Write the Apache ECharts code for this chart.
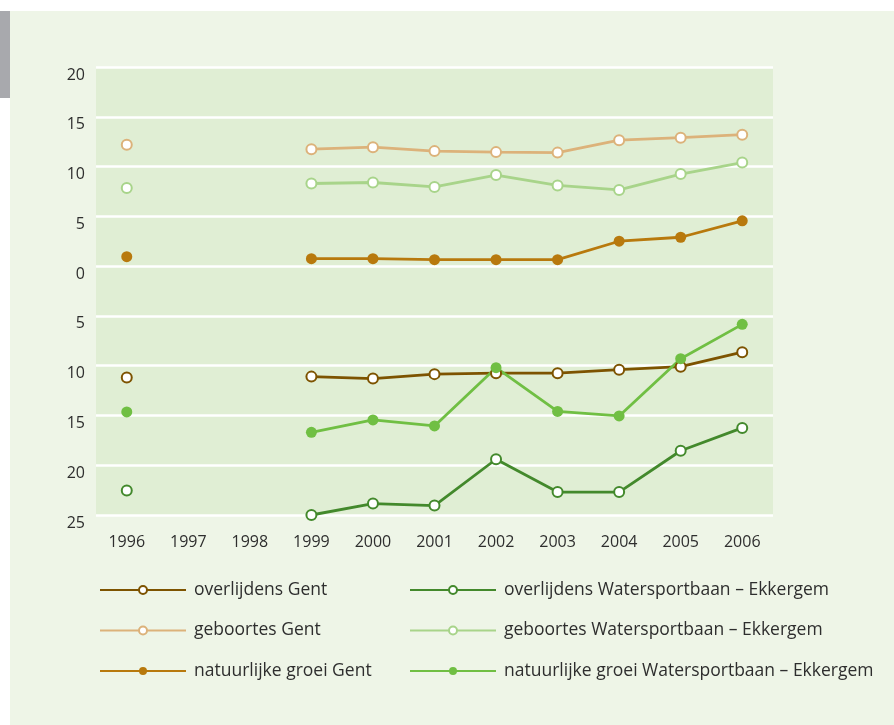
<!DOCTYPE html>
<html>
<head>
<meta charset="utf-8">
<script src="https://cdn.jsdelivr.net/npm/echarts@6/dist/echarts.min.js"></script>
<style>
html,body{margin:0;padding:0;background:#ffffff;}
#chart{width:894px;height:725px;}
</style>
</head>
<body>
<div id="chart"></div>
<script>
var years = ['1996','1997','1998','1999','2000','2001','2002','2003','2004','2005','2006'];
var overlijdensGent = [-11.2, null, null, -11.1, -11.3, -10.85, -10.75, -10.75, -10.4, -10.1, -8.65];
var geboortesGent = [12.2, null, null, 11.75, 11.95, 11.55, 11.45, 11.4, 12.65, 12.9, 13.2];
var groeiGent = [0.95, null, null, 0.75, 0.75, 0.65, 0.65, 0.65, 2.5, 2.9, 4.55];
var overlijdensWE = [-22.55, null, null, -25.0, -23.85, -24.05, -19.4, -22.7, -22.7, -18.55, -16.25];
var geboortesWE = [7.85, null, null, 8.3, 8.4, 7.95, 9.15, 8.1, 7.65, 9.25, 10.4];
var groeiWE = [-14.65, null, null, -16.7, -15.45, -16.05, -10.2, -14.6, -15.05, -9.3, -5.85];
var yTicks = {min: -25, max: 20, step: 5};

var FONT = 'Open Sans';

function mk(name, data, color, filled) {
  return {
    name: name,
    type: 'line',
    data: data,
    connectNulls: false,
    symbol: filled ? 'circle' : 'emptyCircle',
    symbolSize: filled ? 11 : 10,
    showAllSymbol: true,
    lineStyle: {color: color, width: 2.8},
    itemStyle: {color: color, borderColor: color, borderWidth: filled ? 0 : 2.4},
    emphasis: {disabled: true},
    animation: false,
    clip: false,
    z: 3
  };
}

var chart = echarts.init(document.getElementById('chart'), null, {renderer: 'canvas'});
var legendCommon = {
  orient: 'vertical',
  top: 581,
  padding: 0,
  itemWidth: 86,
  itemHeight: 10,
  itemGap: 22.5,
  textStyle: {fontFamily: FONT, fontSize: 17.5, color: '#2e2e2e', padding: [0,0,0,3]},
  selectedMode: false
};
chart.setOption({
  backgroundColor: '#ffffff',
  animation: false,
  graphic: [
    {type: 'rect', left: 10, top: 11, shape: {width: 884, height: 714}, style: {fill: '#eef5e7'}, z: -10, silent: true},
    {type: 'rect', left: 0, top: 11, shape: {width: 10, height: 87}, style: {fill: '#a8a9ad'}, z: -10, silent: true}
  ],
  grid: {
    left: 96, right: 121, top: 67, bottom: 210,
    show: true, backgroundColor: '#e0eed4', borderWidth: 0, containLabel: false
  },
  xAxis: {
    type: 'category',
    data: years,
    boundaryGap: true,
    axisLine: {show: false},
    axisTick: {show: false},
    axisLabel: {fontFamily: FONT, fontSize: 16, color: '#2e2e2e', margin: 19},
    splitLine: {show: false}
  },
  yAxis: {
    type: 'value',
    min: yTicks.min, max: yTicks.max, interval: yTicks.step,
    axisLine: {show: false},
    axisTick: {show: false},
    axisLabel: {fontFamily: FONT, fontSize: 16, color: '#2e2e2e', margin: 11, verticalAlign: 'top',
      formatter: function (v) { return String(Math.abs(v)); }},
    splitLine: {show: true, lineStyle: {color: '#ffffff', width: 2.5}}
  },
  legend: [
    Object.assign({}, legendCommon, {left: 99, data: ['overlijdens Gent', 'geboortes Gent', 'natuurlijke groei Gent']}),
    Object.assign({}, legendCommon, {left: 409, data: ['overlijdens Watersportbaan – Ekkergem', 'geboortes Watersportbaan – Ekkergem', 'natuurlijke groei Watersportbaan – Ekkergem']})
  ],
  series: [
    mk('overlijdens Gent', overlijdensGent, '#7d5300', false),
    mk('geboortes Gent', geboortesGent, '#dcb27a', false),
    mk('natuurlijke groei Gent', groeiGent, '#b8790d', true),
    mk('overlijdens Watersportbaan – Ekkergem', overlijdensWE, '#43892c', false),
    mk('geboortes Watersportbaan – Ekkergem', geboortesWE, '#a8d48a', false),
    mk('natuurlijke groei Watersportbaan – Ekkergem', groeiWE, '#70bf43', true)
  ]
});
</script>
</body>
</html>
